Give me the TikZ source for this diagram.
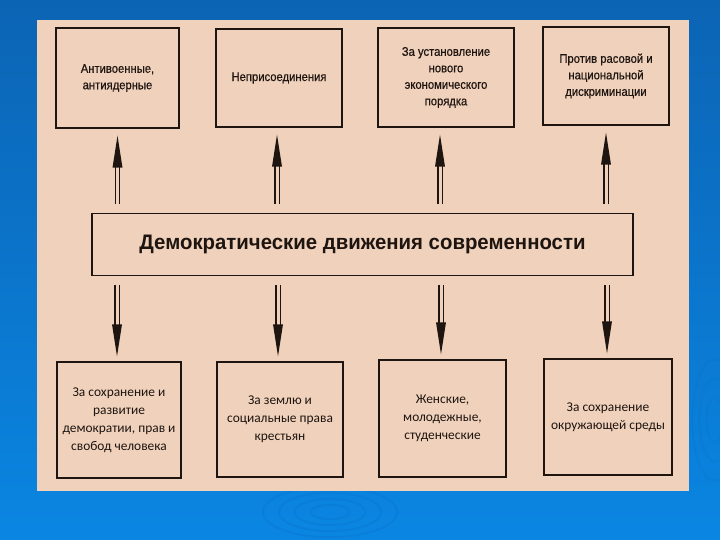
\documentclass[tikz,border=0pt]{standalone}
\usepackage{fontspec}
\setmainfont{Liberation Sans}
\newfontfamily\topfont[FakeStretch=0.9,FakeBold=0.5]{Liberation Sans}
\newfontfamily\titlefont[FakeStretch=0.97]{Liberation Sans}
\newfontfamily\botfont{Carlito}
\usetikzlibrary{calc}
\definecolor{slidetop}{RGB}{12,100,180}
\definecolor{slidebot}{RGB}{10,134,226}
\definecolor{ripple}{RGB}{8,116,206}
\definecolor{paper}{RGB}{240,210,188}
\definecolor{ink}{RGB}{30,20,16}
\tikzset{
  box/.style={draw=ink, line width=1.4pt, align=center, inner sep=2pt},
  topbox/.style={box, font=\topfont\fontsize{12.5}{16.5}\selectfont, text=ink},
  botbox/.style={box, font=\botfont\fontsize{13.4}{18}\selectfont, text=ink},
  shaft/.style={draw=ink, double=paper, double distance=3pt, line width=1.1pt},
  head/.style={fill=ink, draw=none}
}
\begin{document}
\begin{tikzpicture}[x=1pt,y=-1pt]
\useasboundingbox (0,0) rectangle (720,540);
\shade[top color=slidetop, bottom color=slidebot] (0,0) rectangle (720,540);
% faint ripples
\foreach \r in {12,22,32,42}{
  \draw[ripple, line width=2pt, opacity=0.35] (330,512) ellipse ({\r*1.6} and \r*0.6);
}
\foreach \r in {14,26,38}{
  \draw[ripple, line width=2pt, opacity=0.3] (715,420) ellipse ({\r*0.6} and \r*1.6);
}
\fill[paper] (37,20) rectangle (689,491);
% top boxes
\node[topbox, minimum width=123pt, minimum height=100pt] (t1) at (117.5,78) {Антивоенные,\\антиядерные};
\node[topbox, minimum width=126pt, minimum height=98pt] (t2) at (279,78) {Неприсоединения};
\node[topbox, minimum width=136pt, minimum height=99pt] (t3) at (446,77.5) {За установление\\нового\\экономического\\порядка};
\node[topbox, minimum width=126pt, minimum height=98pt] (t4) at (606,76) {Против расовой и\\национальной\\дискриминации};
% middle
\node[box, minimum width=541pt, minimum height=62pt, font=\titlefont\bfseries\fontsize{21}{24}\selectfont, text=ink] (m) at (362.5,244.5) {Демократические движения современности};
% bottom boxes
\node[botbox, minimum width=124pt, minimum height=116pt] (b1) at (119,420) {За сохранение и\\развитие\\демократии, прав и\\свобод человека};
\node[botbox, minimum width=126pt, minimum height=115pt] (b2) at (280,419.5) {За землю и\\социальные права\\крестьян};
\node[botbox, minimum width=127pt, minimum height=117pt] (b3) at (442.5,418.5) {Женские,\\молодежные,\\студенческие};
\node[botbox, minimum width=128pt, minimum height=116pt] (b4) at (608,417) {За сохранение\\окружающей среды};
% up arrows
\foreach \t/\dx in {t1/0, t2/-2, t3/-6, t4/0}{
  \coordinate (tip) at ([xshift=\dx pt, yshift=-7pt]\t.south);
  \draw[shaft] (m.north -| tip) ++(0,-9) -- ($(tip)+(0,26)$);
  \fill[head] (tip) -- ++(5,32) -- ++(-10,0) -- cycle;
}
% down arrows
\foreach \b/\dx in {b1/-2, b2/-2, b3/-1.5, b4/-1}{
  \coordinate (tip) at ([xshift=\dx pt, yshift=5pt]\b.north);
  \draw[shaft] (m.south -| tip) ++(0,9) -- ($(tip)+(0,-26)$);
  \fill[head] (tip) -- ++(5,-32) -- ++(-10,0) -- cycle;
}
\end{tikzpicture}
\end{document}
